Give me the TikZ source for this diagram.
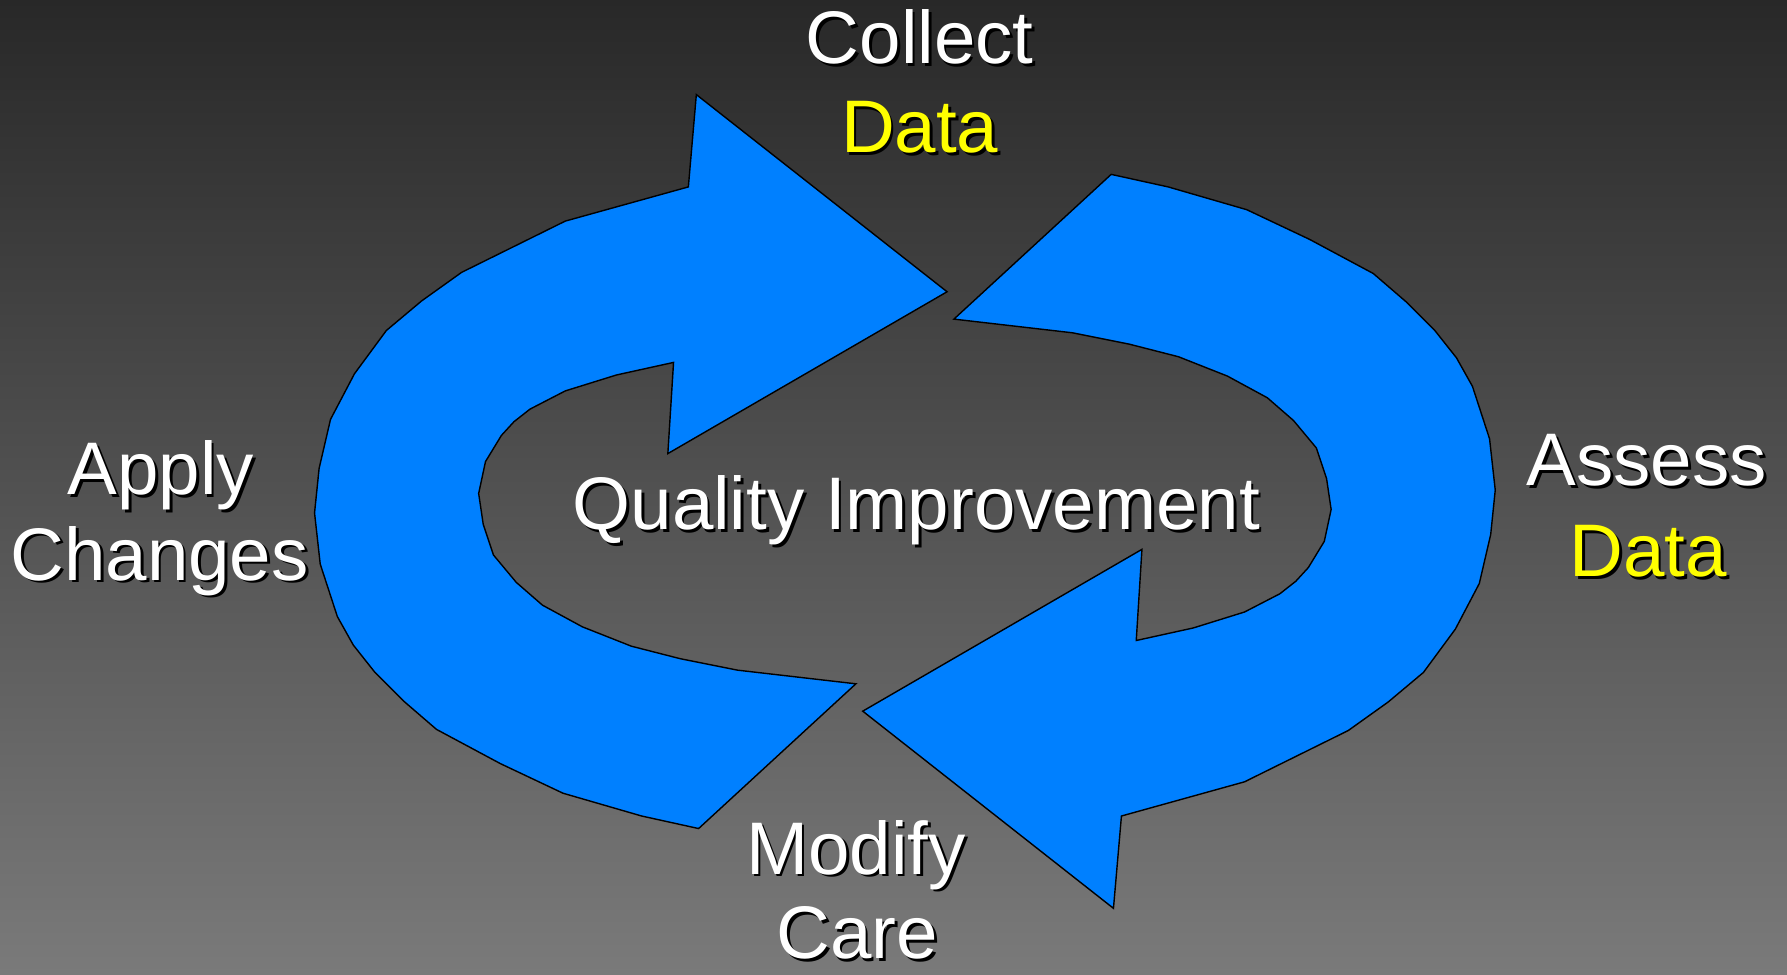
\documentclass[tikz,border=0pt]{standalone}
\usepackage{fontspec}
\setmainfont{Liberation Sans}

\definecolor{qiblue}{HTML}{0080FF}
\definecolor{qiyellow}{HTML}{FFFF00}
\definecolor{bgtop}{HTML}{282828}
\definecolor{bgbottom}{HTML}{7A7A7A}

% text with a small black drop shadow
\newcommand{\shtext}[2][white]{\makebox[0pt][l]{\hspace{0.8pt}\raisebox{-0.8pt}{\color{black}#2}}\textcolor{#1}{#2}}

\begin{document}
\begin{tikzpicture}[x=0.011397cm, y=-0.011397cm,
    lbl/.style={anchor=base, inner sep=0pt, font=\fontsize{21.2}{25}\selectfont}]
    % background
    \shade[top color=bgtop, bottom color=bgbottom] (0,0) rectangle (1568,855);

    % the two curved arrows, the second one turned half round
    \foreach \a in {0,180} {
        \filldraw[fill=qiblue, draw=black, line width=0.4pt, rotate around={\a:(794,440)}]
            (831,256) -- (611,83) -- (604,164) -- (496,194) -- (405,239) -- (370,264)
            -- (339,290) -- (311,328) -- (290,368) -- (280,411) -- (276,450) -- (281,495)
            -- (296,541) -- (310,566) -- (329,590) -- (354,615) -- (383,640) -- (439,670)
            -- (494,696) -- (563,716) -- (613,727) -- (751,600) -- (647,588) -- (597,578)
            -- (554,567) -- (511,550) -- (476,531) -- (453,511) -- (433,487) -- (424,460)
            -- (420,433) -- (426,405) -- (440,382) -- (451,370) -- (465,359) -- (496,343)
            -- (541,329) -- (591,318) -- (586,398) -- cycle;
    }

    \node[lbl] (collect) at (807,56) {\shtext{Collect}};
    \node[lbl] (collectdata) at (807,134) {\shtext[qiyellow]{Data}};
    \node[lbl] (apply) at (141,434) {\shtext{Apply}};
    \node[lbl] (changes) at (140,509) {\shtext{Changes}};
    \node[lbl] (assess) at (1445,426) {\shtext{Assess}};
    \node[lbl] (assessdata) at (1446,506) {\shtext[qiyellow]{Data}};
    \node[lbl] (quality) at (804,465) {\shtext{Quality Improvement}};
    \node[lbl] (modify) at (751,767) {\shtext{Modify}};
    \node[lbl] (care) at (752,841) {\shtext{Care}};
\end{tikzpicture}
\end{document}
